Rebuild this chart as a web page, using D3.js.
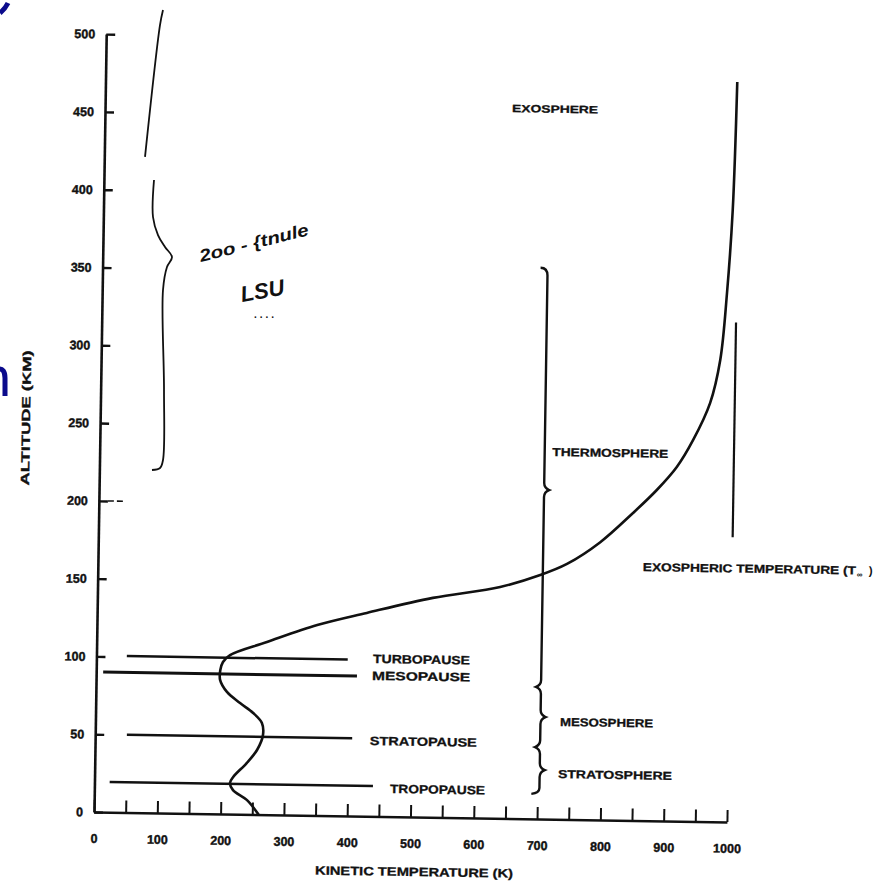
<!DOCTYPE html>
<html><head><meta charset="utf-8">
<script src="https://cdn.jsdelivr.net/npm/d3@7"></script>
<style>
html,body{margin:0;padding:0;background:#fff;}
text{font-family:"Liberation Sans","DejaVu Sans",sans-serif;font-weight:bold;fill:#111;}
</style></head>
<body>
<script>
// ---------- data ----------
const tempTicks = [0,100,200,300,400,500,600,700,800,900,1000];
const tempMinorTicks = [0,50,100,150,200,250,300,350,400,450,500,550,600,650,700,750,800,850,900,950,1000];
const altTicks = [0,50,100,150,200,250,300,350,400,450,500];

// temperature profile (K) vs altitude (km)
const profileTemp = [260,241,219,214,219,240,256,265,263,249,228,207,196,196,200,211,269,348,426,530,636,699,741,793,844,881,912,937,963,978,987,994,998];
const profileAlt  = [0,9.3,15.5,20,23.9,33,41.5,51.2,58.9,65.2,71.5,78.5,86,92.5,97.7,102.2,111,122.4,130.7,141,148.7,156.8,164.2,178.5,197.6,212.6,227.6,245,269,296.8,339.9,393.3,475.6];

// boundary ("pause") lines
const pauseNames = ["TURBOPAUSE","MESOPAUSE","STRATOPAUSE","TROPOPAUSE"];
const pauseAlt   = [100.5, 90, 50, 19.5];
const pauseStart = [48, 11, 50, 24];
const pauseEnd   = [397, 412, 406, 440];
const pauseLabelT   = [437, 436, 434, 467];
const pauseLabelAlt = [98.6, 87.7, 45.8, 15.2];
const pauseLabelW   = [97, 98, 107, 95];

// region labels
const regionNames = ["EXOSPHERE","THERMOSPHERE","MESOSPHERE","STRATOSPHERE"];
const regionT     = [643, 715, 734, 732];
const regionAlt   = [454, 233.4, 60, 26.5];
const regionW     = [86, 116, 93, 114];

// brace along T = 703 K
const braceT = 703;
const braceTop = 353, braceBottom = 16.7;
const braceBumpAlt = [211.5, 84.8, 65.6, 46.2, 31.5];
const braceBumpDir = [1, -1, 1, -1, 1];

// exospheric temperature marker
const exoT = 1002, exoAltTop = 321, exoAltBottom = 183;
const exoLabelT = 861, exoLabelAlt = 160.4;

// handwritten bracket (T, alt)
const handUpperT   = [109, 104.3, 80.6];
const handUpperAlt = [515.4, 505.8, 421];
const handLowerT   = [94.8, 93.2, 101.1, 112.2, 123.2, 115.3, 109, 110.6, 109, 104.3, 91.6];
const handLowerAlt = [406.2, 382.4, 370.8, 363.1, 356.7, 350.3, 335.5, 271.2, 226.2, 221.1, 219.8];

// ---------- drawing ----------
const W = 888, H = 881;
const svg = d3.select("body").append("svg").attr("width", W).attr("height", H);
svg.append("rect").attr("width", W).attr("height", H).attr("fill", "#fff");

const x = d3.scaleLinear().domain([0, 1000]).range([94, 727]);
const y = d3.scaleLinear().domain([0, 500]).range([812, 34]);
const ink = "#111";

// whole scanned chart is tilted slightly
const g = svg.append("g").attr("transform", `rotate(0.9, ${x(0)}, ${y(0)})`);

// Y axis
const yAxis = g.append("g").attr("transform", `translate(${x(0)},0)`)
  .call(d3.axisLeft(y).tickValues(altTicks).tickSize(-9).tickSizeOuter(0).tickPadding(11).tickFormat(d3.format("d")));
yAxis.select(".domain").attr("stroke", ink).attr("stroke-width", 2.6);
yAxis.selectAll(".tick line").attr("stroke", ink).attr("stroke-width", 2.4);
yAxis.selectAll(".tick text").attr("font-size", 12.5).attr("font-weight", "bold")
  .attr("font-family", "Liberation Sans, sans-serif").attr("fill", ink)
  .attr("stroke", ink).attr("stroke-width", 0.4);
// dashed extension at 200
g.append("line").attr("x1", x(0) + 9).attr("x2", x(0) + 27).attr("y1", y(200)).attr("y2", y(200))
  .attr("stroke", ink).attr("stroke-width", 1.6).attr("stroke-dasharray", "6,3");

// X axis
const xAxis = g.append("g").attr("transform", `translate(0,${y(0)})`)
  .call(d3.axisBottom(x).tickValues(tempMinorTicks).tickSize(-12).tickSizeOuter(0).tickPadding(22)
    .tickFormat(d => tempTicks.includes(d) ? d3.format("d")(d) : ""));
xAxis.select(".domain").attr("stroke", ink).attr("stroke-width", 2.6);
xAxis.selectAll(".tick line").attr("stroke", ink).attr("stroke-width", 2);
xAxis.selectAll(".tick text").attr("font-size", 12.5).attr("font-weight", "bold")
  .attr("font-family", "Liberation Sans, sans-serif").attr("fill", ink)
  .attr("stroke", ink).attr("stroke-width", 0.4);

// axis titles
g.append("text").attr("x", 415).attr("y", 871).attr("text-anchor", "middle")
  .attr("font-size", 12).attr("textLength", 198).attr("lengthAdjust", "spacingAndGlyphs")
  .attr("stroke", ink).attr("stroke-width", 0.3)
  .text("KINETIC TEMPERATURE (K)");
g.append("text").attr("transform", "translate(24,419) rotate(-90)").attr("text-anchor", "middle")
  .attr("font-size", 12).attr("textLength", 135).attr("lengthAdjust", "spacingAndGlyphs")
  .attr("stroke", ink).attr("stroke-width", 0.3)
  .text("ALTITUDE (KM)");

// pause lines
pauseNames.forEach((n, i) => {
  g.append("line").attr("x1", x(pauseStart[i])).attr("x2", x(pauseEnd[i]))
    .attr("y1", y(pauseAlt[i])).attr("y2", y(pauseAlt[i]))
    .attr("stroke", ink).attr("stroke-width", i === 1 ? 3 : 2.5);
  g.append("text").attr("x", x(pauseLabelT[i])).attr("y", y(pauseLabelAlt[i]))
    .attr("font-size", 12).attr("textLength", pauseLabelW[i]).attr("lengthAdjust", "spacingAndGlyphs")
    .attr("stroke", ink).attr("stroke-width", 0.3)
    .text(n);
});

// temperature profile
const profile = profileTemp.map((t, i) => [t, profileAlt[i]]);
g.append("path").datum(profile)
  .attr("d", d3.line().x(d => x(d[0])).y(d => y(d[1])).curve(d3.curveCatmullRom.alpha(0.5)))
  .attr("fill", "none").attr("stroke", ink).attr("stroke-width", 2.6).attr("stroke-linejoin", "round");

// brace
{
  const bx = x(braceT);
  const p = d3.path();
  p.moveTo(bx - 7, y(braceTop) - 2);
  p.quadraticCurveTo(bx, y(braceTop) - 2, bx, y(braceTop) + 6);
  const bumps = braceBumpAlt.map((a, i) => [y(a), braceBumpDir[i]]);
  bumps.forEach(([by, dir]) => {
    p.lineTo(bx, by - 7);
    p.quadraticCurveTo(bx, by - 2, bx + dir * 5, by);
    p.quadraticCurveTo(bx, by + 2, bx, by + 7);
  });
  p.lineTo(bx, y(braceBottom) - 5);
  p.quadraticCurveTo(bx, y(braceBottom), bx - 8, y(braceBottom) + 1);
  g.append("path").attr("d", p.toString()).attr("fill", "none").attr("stroke", ink).attr("stroke-width", 2.4);
}

// exospheric temperature marker
g.append("line").attr("x1", x(exoT)).attr("x2", x(exoT)).attr("y1", y(exoAltTop)).attr("y2", y(exoAltBottom))
  .attr("stroke", ink).attr("stroke-width", 2.2);

// region labels
regionNames.forEach((n, i) => {
  g.append("text").attr("x", x(regionT[i])).attr("y", y(regionAlt[i]))
    .attr("font-size", i === 0 ? 10.5 : 11.5).attr("textLength", regionW[i]).attr("lengthAdjust", "spacingAndGlyphs")
    .attr("stroke", ink).attr("stroke-width", 0.3)
    .text(n);
});
{
  const ex = x(exoLabelT), ey = y(exoLabelAlt);
  g.append("text").attr("x", ex).attr("y", ey).attr("font-size", 11.5)
    .attr("stroke", ink).attr("stroke-width", 0.3)
    .attr("textLength", 213).attr("lengthAdjust", "spacingAndGlyphs").text("EXOSPHERIC TEMPERATURE (T");
  g.append("text").attr("x", ex + 214).attr("y", ey + 3).attr("font-size", 8).text("\u221E");
  g.append("text").attr("x", ex + 226).attr("y", ey).attr("font-size", 11.5).text(")");
}

// ---------- handwritten notes (not tilted) ----------
const hand = svg.append("g");
const handLine = d3.line().x(d => x(d[0])).y(d => y(d[1])).curve(d3.curveCatmullRom);
hand.append("path").datum(handUpperT.map((t, i) => [t, handUpperAlt[i]])).attr("d", handLine)
  .attr("fill", "none").attr("stroke", ink).attr("stroke-width", 1.8);
hand.append("path").datum(handLowerT.map((t, i) => [t, handLowerAlt[i]])).attr("d", handLine)
  .attr("fill", "none").attr("stroke", ink).attr("stroke-width", 1.8);
hand.append("text").attr("transform", "translate(201,262) rotate(-14)")
  .attr("font-family", "DejaVu Sans, sans-serif").attr("font-style", "italic").attr("font-weight", "normal")
  .attr("font-size", 17).attr("textLength", 112).attr("lengthAdjust", "spacingAndGlyphs").text("2oo - {tnule");
hand.append("text").attr("transform", "translate(242,302) rotate(-10)")
  .attr("font-family", "DejaVu Sans, sans-serif").attr("font-style", "italic").attr("font-weight", "normal")
  .attr("font-size", 22).attr("textLength", 44).attr("lengthAdjust", "spacingAndGlyphs").text("LSU");
hand.append("text").attr("x", 254).attr("y", 318)
  .attr("font-family", "DejaVu Sans, sans-serif").attr("font-weight", "normal")
  .attr("font-size", 10).attr("letter-spacing", 3).text("....");

// blue slide artifacts
svg.append("path").attr("d", "M0,13 Q5,9 8,3").attr("fill", "none").attr("stroke", "#0b0b8c").attr("stroke-width", 5);
svg.append("path").attr("d", "M-2,369 Q5,368 5,378 L5,396").attr("fill", "none").attr("stroke", "#0b0b8c").attr("stroke-width", 5);
</script>
</body></html>
